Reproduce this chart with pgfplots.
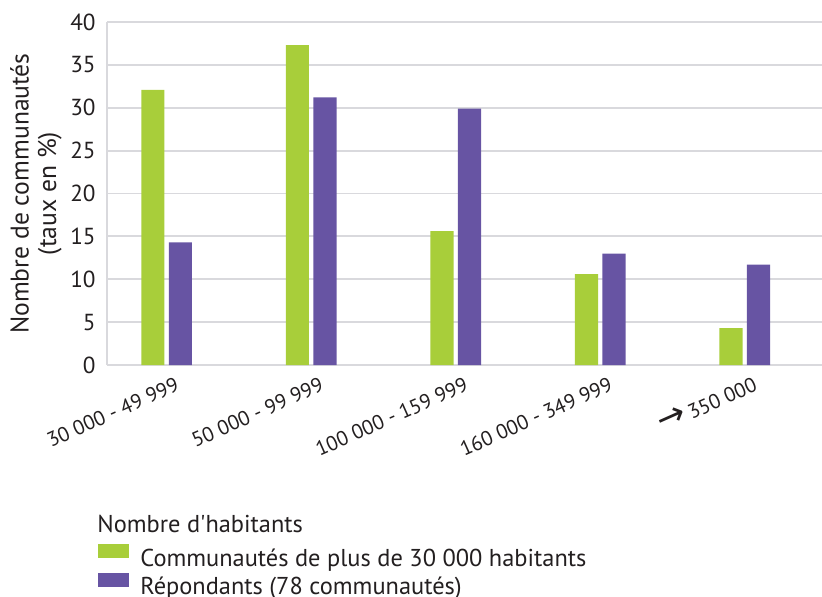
\documentclass[border=0pt]{standalone}
\usepackage{fontspec}
\setmainfont{PT Sans}
\newfontfamily\arrowfont{DejaVu Sans}
\usepackage{pgfplots}
\pgfplotsset{compat=1.18}

\definecolor{barGreen}{RGB}{168,206,58}
\definecolor{barPurple}{RGB}{103,84,163}
\definecolor{gridGrey}{RGB}{217,217,221}
\definecolor{inkDark}{RGB}{35,31,32}

\newcommand{\chartfont}{\fontsize{12.2}{14}\selectfont}

\begin{document}
\begin{tikzpicture}[font=\chartfont, inkDark]
\begin{axis}[
  at={(0,0)}, anchor=south west,
  width=357.5pt, height=171.5pt, scale only axis,
  ybar, bar width=0.16,
  xmin=-0.413, xmax=4.535,
  ymin=0, ymax=40, ytick={0,5,...,40},
  xtick={0,...,4},
  xticklabels={30 000 - 49 999, 50 000 - 99 999, 100 000 - 159 999,
    160 000 - 349 999, {\smash{\arrowfont\fontsize{17}{17}\selectfont →}\,350 000}},
  /pgf/number format/assume math mode=true,
  axis x line*=bottom, axis y line*=left,
  axis line style={draw=gridGrey, line width=0.9pt, -},
  ymajorgrids, grid style={draw=gridGrey, line width=0.9pt},
  major tick length=0pt,
  tick label style={text=inkDark},
  yticklabel style={font=\fontsize{11.6}{13}\selectfont, inner sep=0pt, anchor=east, xshift=-5.5pt},
  xticklabel style={font=\fontsize{10.3}{12}\selectfont, inner sep=0pt,
    xshift=4pt, yshift=-5.5pt, rotate=24, anchor=north east},
  ylabel={Nombre de communautés\\(taux en \%)},
  ylabel style={align=center, font=\fontsize{12.8}{13.8}\selectfont, text=inkDark,
    at={([xshift=-35.5pt]axis description cs:0,0.5)}, anchor=center},
  legend style={at={(axis description cs:0,0)}, anchor=north west,
    xshift=-4.5pt, yshift=-89.5pt, draw=none, fill=none, inner sep=0pt,
    nodes={inner sep=0pt, text height=8.5pt, text depth=2.5pt},
    column sep=5.5pt, row sep=1pt,
    font=\chartfont, text=inkDark},
  legend cell align=left,
  legend image code/.code={\fill[#1] (0pt,1pt) rectangle (15.5pt,7.8pt);},
]
% share of all communities above 30 000 inhabitants, by size class
\addplot[fill=barGreen, draw=none, bar shift=-6.875pt]
  coordinates {(0,32.1) (1,37.3) (2,15.6) (3,10.6) (4,4.3)};
% share of the 77 responding communities, by size class
\addplot[fill=barPurple, draw=none, bar shift=6.875pt]
  coordinates {(0,14.3) (1,31.2) (2,29.9) (3,13.0) (4,11.7)};
\legend{Communautés de plus de 30 000 habitants, Répondants (78 communautés)}
\end{axis}
\node[anchor=base west, inner sep=0pt, text=inkDark] at (-5pt,-83.5pt) {Nombre d\textquotesingle habitants};
\pgfresetboundingbox
\useasboundingbox (-53.5pt,-115.5pt) rectangle (357.5pt,182.5pt);
\end{tikzpicture}
\end{document}
